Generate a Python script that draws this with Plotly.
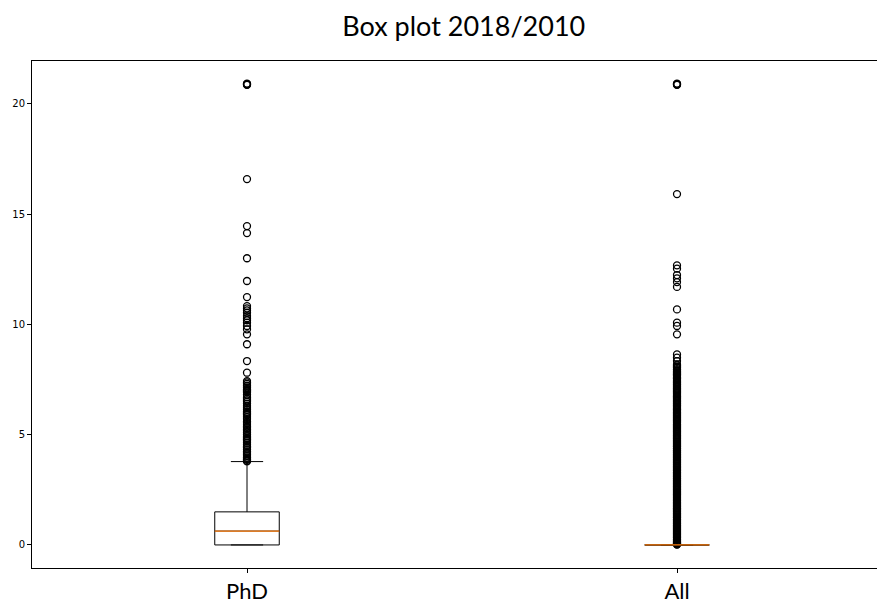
import plotly.graph_objects as go

# ---- data ----
categories = ["PhD", "All"]
positions = [1, 2]
q1_vals = [0.0, 0.0]
median_vals = [0.63, 0.0]
q3_vals = [1.5, 0.0]
lower_whisker = [0.0, 0.0]
upper_whisker = [3.78, 0.0]

phd_outliers = [
    20.86, 20.88, 20.9, 20.92, 16.59, 14.46, 14.14, 13.0, 11.97, 11.24,
    10.83, 10.73, 10.64, 10.53, 10.38, 10.28, 10.19, 10.08, 9.93, 9.78,
    9.55, 9.1, 8.34, 7.81,
    7.43, 7.37, 7.3, 7.22, 7.15, 7.06, 7.02, 6.97, 6.92, 6.81, 6.7, 6.62,
    6.56, 6.49, 6.41, 6.3, 6.21, 6.13, 6.04, 5.98, 5.94, 5.89, 5.8, 5.71,
    5.6, 5.53, 5.44, 5.36, 5.3, 5.24, 5.17, 5.09, 5.01, 4.93, 4.86, 4.81,
    4.77, 4.71, 4.63, 4.54, 4.47, 4.41, 4.33, 4.24, 4.17, 4.11, 4.03, 3.96,
    3.9, 3.86, 3.81, 3.79,
]

all_outliers = [
    20.86, 20.88, 20.9, 20.92, 15.91, 12.68, 12.53, 12.24, 12.09, 11.92,
    11.7, 10.68, 10.08, 9.93, 9.55, 8.64, 8.49, 8.34,
    8.19, 8.14, 8.08, 8.03, 7.97, 7.93, 7.88, 7.83, 7.79, 7.74, 7.71, 7.66,
    7.6, 7.56, 7.52, 7.47, 7.41, 7.37, 7.33, 7.28, 7.24, 7.19, 7.13, 7.09,
    7.05, 7.0, 6.96, 6.92, 6.88, 6.83, 6.77, 6.73, 6.69, 6.64, 6.58, 6.54,
    6.5, 6.45, 6.41, 6.36, 6.32, 6.27, 6.21, 6.17, 6.14, 6.09, 6.03, 5.99,
    5.95, 5.9, 5.86, 5.81, 5.77, 5.72, 5.68, 5.64, 5.6, 5.55, 5.49, 5.45,
    5.41, 5.36, 5.32, 5.27, 5.22, 5.18, 5.14, 5.1, 5.05, 5.0, 4.96, 4.92,
    4.87, 4.83, 4.79, 4.74, 4.7, 4.66, 4.61, 4.57, 4.52, 4.48, 4.44, 4.39,
    4.35, 4.3, 4.26, 4.22, 4.18, 4.13, 4.09, 4.04, 4.0, 3.96, 3.91, 3.87,
    3.83, 3.78, 3.74, 3.7, 3.65, 3.61, 3.56, 3.52, 3.48, 3.43, 3.39, 3.35,
    3.3, 3.26, 3.22, 3.17, 3.13, 3.09, 3.04, 3.0, 2.95, 2.91, 2.87, 2.82,
    2.78, 2.74, 2.69, 2.65, 2.61, 2.56, 2.52, 2.48, 2.43, 2.39, 2.35, 2.3,
    2.26, 2.22, 2.17, 2.13, 2.08, 2.04, 2.0, 1.95, 1.91, 1.87, 1.82, 1.78,
    1.74, 1.69, 1.65, 1.61, 1.56, 1.52, 1.48, 1.43, 1.39, 1.35, 1.3, 1.26,
    1.22, 1.17, 1.13, 1.09, 1.04, 1.0, 0.96, 0.91, 0.87, 0.83, 0.78, 0.74,
    0.7, 0.65, 0.61, 0.57, 0.52, 0.48, 0.44, 0.39, 0.35, 0.31, 0.26, 0.22,
    0.18, 0.14, 0.11, 0.08, 0.05, 0.03, 0.02,
]

y_tick_vals = [0, 5, 10, 15, 20]
title_text = "Box plot 2018/2010"

# ---- figure ----
fig = go.Figure()
box_width = 0.15

for pos, a, med, b, lo, hi in zip(positions, q1_vals, median_vals, q3_vals,
                                  lower_whisker, upper_whisker):
    fig.add_trace(go.Box(
        x=[pos], q1=[a], median=[med], q3=[b], lowerfence=[lo], upperfence=[hi],
        width=box_width, whiskerwidth=0.5, boxpoints=False,
        line=dict(color="black", width=1), fillcolor="rgba(0,0,0,0)",
        showlegend=False, hoverinfo="skip",
    ))

for pos, vals in zip(positions, [phd_outliers, all_outliers]):
    fig.add_trace(go.Scatter(
        x=[pos] * len(vals), y=vals, mode="markers",
        marker=dict(symbol="circle-open", size=7, color="black",
                    line=dict(width=1.3, color="black")),
        showlegend=False, hoverinfo="skip",
    ))

for pos, med in zip(positions, median_vals):
    fig.add_trace(go.Scatter(
        x=[pos - box_width / 2, pos + box_width / 2], y=[med, med],
        mode="lines", line=dict(color="#ff7f0e", width=1.2),
        showlegend=False, hoverinfo="skip",
    ))

fig.update_layout(
    width=885, height=605,
    margin=dict(l=24, r=1, t=53, b=45),
    plot_bgcolor="white", paper_bgcolor="white",
    title=dict(text=title_text, x=0.515, xanchor="center", y=0.97, yanchor="middle",
               font=dict(family="Lato", size=27, color="black")),
    boxmode="overlay",
)
fig.update_xaxes(
    range=[0.5, 2.5], tickmode="array", tickvals=positions, ticktext=categories,
    ticks="outside", ticklen=4, tickcolor="black",
    tickfont=dict(family="Lato", size=22, color="black"),
    showline=True, linecolor="black", linewidth=1, mirror=True,
    showgrid=False, zeroline=False,
)
fig.update_yaxes(
    range=[-1.045, 21.945], tickmode="array", tickvals=y_tick_vals,
    ticks="outside", ticklen=4, tickcolor="black",
    tickfont=dict(family="DejaVu Sans", size=10, color="black"),
    showline=True, linecolor="black", linewidth=1, mirror=False,
    showgrid=False, zeroline=False,
)

fig.write_html("out.html")
